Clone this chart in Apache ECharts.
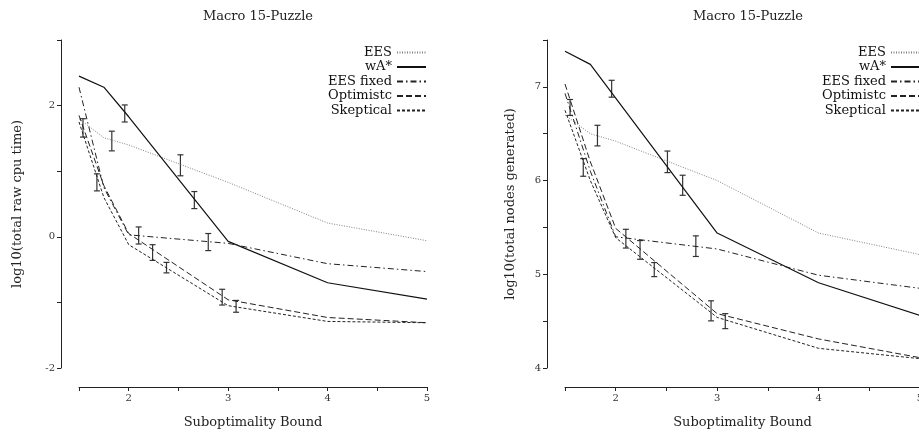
<!DOCTYPE html>
<html><head><meta charset="utf-8">
<script src="https://cdn.jsdelivr.net/npm/echarts@6/dist/echarts.min.js"></script>
<style>html,body{margin:0;padding:0;background:#fff}#c{width:919px;height:432px}</style>
</head><body><div id="c"></div>
<script>
// ---- data ----
const titleText = 'Macro 15-Puzzle';
const xName = 'Suboptimality Bound';
const yNameLeft = 'log10(total raw cpu time)';
const yNameRight = 'log10(total nodes generated)';
const seriesNames = ['EES', 'wA*', 'EES fixed', 'Optimistc', 'Skeptical'];
const bounds = [1.5, 1.75, 2, 3, 4, 5];

// left panel: log10(total raw cpu time)
const cpuEES      = [1.80, 1.51, 1.40, 0.83, 0.21, -0.06];
const cpuWA       = [2.45, 2.28, 1.83, -0.07, -0.70, -0.95];
const cpuEESfixed = [2.28, 0.75, 0.03, -0.10, -0.41, -0.53];
const cpuOptim    = [1.85, 0.78, 0.05, -0.96, -1.23, -1.31];
const cpuSkept    = [1.75, 0.60, -0.12, -1.05, -1.29, -1.31];
// error bars [x, mean, half-width]
const cpuErrX    = [1.54, 1.68, 1.83, 1.96, 2.10, 2.24, 2.38, 2.52, 2.66, 2.80, 2.94, 3.08];
const cpuErrY    = [1.66, 0.83, 1.46, 1.88, 0.02, -0.24, -0.47, 1.09, 0.56, -0.08, -0.92, -1.06];
const cpuErrHalf = [0.14, 0.13, 0.15, 0.13, 0.13, 0.12, 0.08, 0.16, 0.13, 0.13, 0.12, 0.09];

// right panel: log10(total nodes generated)
const nodesEES      = [6.70, 6.50, 6.42, 6.00, 5.44, 5.21];
const nodesWA       = [7.38, 7.24, 6.88, 5.44, 4.91, 4.56];
const nodesEESfixed = [6.93, 6.10, 5.40, 5.27, 4.99, 4.85];
const nodesOptim    = [7.03, 6.20, 5.49, 4.58, 4.31, 4.11];
const nodesSkept    = [6.75, 6.00, 5.39, 4.54, 4.21, 4.10];
const nodesErrX    = [1.55, 1.68, 1.82, 1.96, 2.10, 2.24, 2.38, 2.51, 2.66, 2.79, 2.94, 3.08];
const nodesErrY    = [6.78, 6.14, 6.48, 6.98, 5.38, 5.26, 5.05, 6.20, 5.95, 5.30, 4.61, 4.50];
const nodesErrHalf = [0.085, 0.094, 0.11, 0.09, 0.10, 0.10, 0.075, 0.115, 0.107, 0.11, 0.107, 0.08];

const xTicks = {min: 1.5, max: 5, interval: 0.5};
const yTicksLeft = {min: -2, max: 3, interval: 1};
const yTicksRight = {min: 4, max: 7.5, interval: 0.5};

// ---- styles ----
const FONT = 'DejaVu Serif';
const styles = [
  {color: '#808080', width: 1, type: [1, 1.5]},
  {color: '#111', width: 1.2, type: 'solid'},
  {color: '#222', width: 1, type: [6, 3, 1.5, 3]},
  {color: '#222', width: 1, type: [6, 3]},
  {color: '#222', width: 1, type: [3, 2]}
];

function pairs(vals) { return bounds.map((b, i) => [b, vals[i]]); }
function errData(xs, ys, hs) { return xs.map((x, i) => [x, ys[i], hs[i]]); }

function errRender(params, api) {
  const x = api.value(0), y = api.value(1), h = api.value(2);
  const t = api.coord([x, y + h]);
  const b = api.coord([x, y - h]);
  const w = 3;
  const st = {stroke: '#333', lineWidth: 1.2};
  return {type: 'group', children: [
    {type: 'line', shape: {x1: t[0], y1: t[1], x2: b[0], y2: b[1]}, style: st},
    {type: 'line', shape: {x1: t[0] - w, y1: t[1], x2: t[0] + w, y2: t[1]}, style: st},
    {type: 'line', shape: {x1: b[0] - w, y1: b[1], x2: b[0] + w, y2: b[1]}, style: st}
  ]};
}

function lineSeries(name, idx, vals, gi) {
  return {
    name: name, type: 'line', xAxisIndex: gi, yAxisIndex: gi,
    data: pairs(vals), symbol: 'none', silent: true, animation: false,
    lineStyle: {color: styles[idx].color, width: styles[idx].width, type: styles[idx].type},
    itemStyle: {color: styles[idx].color}
  };
}

const axisLineStyle = {show: true, onZero: false, lineStyle: {color: '#222', width: 1}};
const tickStyle = {show: true, length: 4, lineStyle: {color: '#222'}};
const labelStyle = {fontFamily: FONT, fontSize: 10, color: '#333'};

function xAxisDef(gi) {
  return {
    type: 'value', gridIndex: gi, min: xTicks.min, max: xTicks.max, interval: xTicks.interval,
    offset: 19, axisLine: axisLineStyle, axisTick: tickStyle,
    axisLabel: Object.assign({margin: 6, formatter: v => Number.isInteger(v) ? String(v) : ''}, labelStyle),
    splitLine: {show: false},
    name: xName, nameLocation: 'middle', nameGap: 29,
    nameTextStyle: {fontFamily: FONT, fontSize: 13, color: '#222'}
  };
}
function yAxisDef(gi, t, yName, gap) {
  return {
    type: 'value', gridIndex: gi, min: t.min, max: t.max, interval: t.interval,
    offset: 18, axisLine: axisLineStyle, axisTick: tickStyle,
    axisLabel: Object.assign({margin: 6, formatter: v => Number.isInteger(v) && (gi === 1 || v % 2 === 0) ? String(v) : ''}, labelStyle),
    splitLine: {show: false},
    name: yName, nameLocation: 'middle', nameGap: gap,
    nameTextStyle: {fontFamily: FONT, fontSize: 13, color: '#222'}
  };
}

function legendDef(rightPos) {
  return {
    orient: 'vertical', right: rightPos, top: 45.5, align: 'right', padding: 0,
    itemWidth: 29, itemHeight: 10, itemGap: 0.5,
    data: seriesNames,
    itemStyle: {opacity: 0},
    textStyle: {fontFamily: FONT, fontSize: 13, color: '#111', lineHeight: 14},
    selectedMode: false
  };
}

const option = {
  animation: false,
  backgroundColor: '#fff',
  title: [
    {text: titleText, left: 253, top: 5, textAlign: 'center',
     textStyle: {fontFamily: FONT, fontSize: 13, fontWeight: 'normal', color: '#222'}},
    {text: titleText, left: 743, top: 5, textAlign: 'center',
     textStyle: {fontFamily: FONT, fontSize: 13, fontWeight: 'normal', color: '#222'}}
  ],
  legend: [legendDef(492), legendDef(-2)],
  grid: [
    {left: 79, top: 40, width: 348, height: 328, outerBoundsMode: 'none', containLabel: false},
    {left: 565, top: 40, width: 355, height: 328, outerBoundsMode: 'none', containLabel: false}
  ],
  xAxis: [xAxisDef(0), xAxisDef(1)],
  yAxis: [yAxisDef(0, yTicksLeft, yNameLeft, 37), yAxisDef(1, yTicksRight, yNameRight, 30)],
  series: [
    lineSeries(seriesNames[0], 0, cpuEES, 0),
    lineSeries(seriesNames[1], 1, cpuWA, 0),
    lineSeries(seriesNames[2], 2, cpuEESfixed, 0),
    lineSeries(seriesNames[3], 3, cpuOptim, 0),
    lineSeries(seriesNames[4], 4, cpuSkept, 0),
    lineSeries(seriesNames[0], 0, nodesEES, 1),
    lineSeries(seriesNames[1], 1, nodesWA, 1),
    lineSeries(seriesNames[2], 2, nodesEESfixed, 1),
    lineSeries(seriesNames[3], 3, nodesOptim, 1),
    lineSeries(seriesNames[4], 4, nodesSkept, 1),
    {type: 'custom', xAxisIndex: 0, yAxisIndex: 0, renderItem: errRender, silent: true,
     data: errData(cpuErrX, cpuErrY, cpuErrHalf)},
    {type: 'custom', xAxisIndex: 1, yAxisIndex: 1, renderItem: errRender, silent: true,
     data: errData(nodesErrX, nodesErrY, nodesErrHalf)}
  ]
};

const chart = echarts.init(document.getElementById('c'), null, {renderer: 'canvas'});
chart.setOption(option);
</script>
</body></html>
